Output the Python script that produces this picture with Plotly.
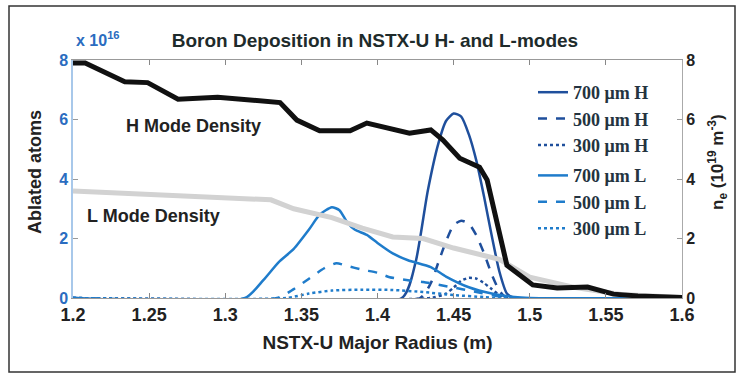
import plotly.graph_objects as go

# ---- data ----
radius_h700 = [1.2, 1.416, 1.425, 1.433, 1.44, 1.445, 1.45, 1.455, 1.46, 1.465, 1.47, 1.475, 1.48, 1.485, 1.49, 1.6]
atoms_h700 = [0, 0, 1.2, 3.6, 5.2, 5.95, 6.2, 6.1, 5.5, 4.6, 3.4, 2.1, 0.9, 0.15, 0, 0]

radius_h500 = [1.2, 1.428, 1.435, 1.44, 1.445, 1.45, 1.455, 1.46, 1.465, 1.47, 1.475, 1.48, 1.485, 1.6]
atoms_h500 = [0, 0, 0.5, 1.2, 1.9, 2.45, 2.6, 2.5, 2.1, 1.5, 0.8, 0.25, 0, 0]

radius_h300 = [1.2, 1.435, 1.445, 1.45, 1.455, 1.46, 1.465, 1.47, 1.475, 1.48, 1.485, 1.6]
atoms_h300 = [0, 0, 0.15, 0.35, 0.58, 0.68, 0.65, 0.5, 0.3, 0.1, 0, 0]

radius_l700 = [1.2, 1.313, 1.325, 1.335, 1.345, 1.355, 1.362, 1.37, 1.375, 1.38, 1.385, 1.393, 1.4, 1.41, 1.42,
               1.435, 1.445, 1.46, 1.475, 1.49, 1.5, 1.6]
atoms_l700 = [0, 0, 0.6, 1.2, 1.65, 2.3, 2.8, 3.05, 2.95, 2.55, 2.3, 2.12, 1.85, 1.5, 1.27,
              1.04, 0.72, 0.36, 0.15, 0.03, 0, 0]

radius_l500 = [1.2, 1.334, 1.345, 1.355, 1.365, 1.373, 1.38, 1.39, 1.4, 1.408, 1.42, 1.43, 1.448, 1.465, 1.48, 1.49, 1.6]
atoms_l500 = [0, 0, 0.3, 0.65, 1.0, 1.17, 1.08, 0.95, 0.85, 0.7, 0.6, 0.54, 0.37, 0.2, 0.05, 0, 0]

radius_l300 = [1.2, 1.34, 1.355, 1.37, 1.39, 1.41, 1.43, 1.45, 1.47, 1.48, 1.6]
atoms_l300 = [0, 0, 0.15, 0.25, 0.28, 0.27, 0.2, 0.1, 0.03, 0, 0]

radius_hden = [1.2, 1.208, 1.234, 1.249, 1.269, 1.295, 1.336, 1.347, 1.362, 1.382, 1.393, 1.421, 1.435,
               1.443, 1.454, 1.467, 1.472, 1.485, 1.502, 1.518, 1.538, 1.555, 1.571, 1.6]
dens_h = [7.9, 7.9, 7.27, 7.24, 6.68, 6.75, 6.57, 5.98, 5.62, 5.62, 5.88, 5.54, 5.65,
          5.31, 4.7, 4.4, 3.97, 1.1, 0.44, 0.34, 0.37, 0.13, 0.07, 0.02]

radius_lden = [1.2, 1.25, 1.3, 1.33, 1.345, 1.37, 1.39, 1.41, 1.43, 1.45, 1.48, 1.5, 1.53, 1.56, 1.6]
dens_l = [3.6, 3.5, 3.4, 3.3, 3.0, 2.7, 2.35, 2.05, 2.0, 1.68, 1.3, 0.7, 0.35, 0.12, 0.02]

x_tickvals = [1.2, 1.25, 1.3, 1.35, 1.4, 1.45, 1.5, 1.55, 1.6]
x_ticktext = ["1.2", "1.25", "1.3", "1.35", "1.4", "1.45", "1.5", "1.55", "1.6"]
y_tickvals = [0, 2, 4, 6, 8]
y_ticktext = ["0", "2", "4", "6", "8"]

H_COL = "#1f4f9c"
L_COL = "#1f7ccb"

fig = go.Figure()

series = [
    ("700 μm H", radius_h700, atoms_h700, H_COL, "solid", "H"),
    ("500 μm H", radius_h500, atoms_h500, H_COL, "dash", "H"),
    ("300 μm H", radius_h300, atoms_h300, H_COL, "dot", "H"),
    ("700 μm L", radius_l700, atoms_l700, L_COL, "solid", "L"),
    ("500 μm L", radius_l500, atoms_l500, L_COL, "dash", "L"),
    ("300 μm L", radius_l300, atoms_l300, L_COL, "dot", "L"),
]
for name, xs, ys, col, dash, grp in series:
    fig.add_trace(go.Scatter(x=xs, y=ys, mode="lines", name=name, legendgroup=grp,
                             line=dict(color=col, width=2.5, dash=dash, shape="spline", smoothing=0.6),
                             yaxis="y"))

fig.add_trace(go.Scatter(x=radius_lden, y=dens_l, mode="lines", name="L Mode Density",
                         showlegend=False, line=dict(color="#d2d2d2", width=5), yaxis="y2"))
fig.add_trace(go.Scatter(x=radius_hden, y=dens_h, mode="lines", name="H Mode Density",
                         showlegend=False, line=dict(color="#111111", width=5), yaxis="y2"))

L, R, T, B = 73, 57, 60, 79
W, H = 739, 377
pw, ph = W - L - R, H - T - B


def px(xp):
    return (xp - L) / pw


def py(yp):
    return (H - B - yp) / ph


bold_sans = "Liberation Sans, Arial, sans-serif"

fig.update_layout(
    width=W, height=H,
    margin=dict(l=L, r=R, t=T, b=B),
    paper_bgcolor="white", plot_bgcolor="white",
    showlegend=True,
    title=dict(text="<b>Boron Deposition in NSTX-U H- and L-modes</b>",
               x=px(375), xanchor="center", xref="paper", y=1 - 40 / H, yanchor="middle",
               font=dict(family=bold_sans, size=19, color="#1e2b2b")),
    xaxis=dict(range=[1.2, 1.6], tickvals=x_tickvals, ticktext=x_ticktext,
               ticks="inside", ticklen=5, tickcolor="#888", showline=True, linecolor="#999",
               linewidth=1, mirror="ticks", showgrid=False, zeroline=False,
               tickfont=dict(family=bold_sans, size=18, color="#222", weight="bold"),
               title=dict(text="<b>NSTX-U Major Radius (m)</b>", standoff=12,
                          font=dict(family=bold_sans, size=19, color="#222"))),
    yaxis=dict(range=[0, 8], tickvals=y_tickvals, ticktext=y_ticktext,
               ticks="inside", ticklen=5, tickcolor="#999", showline=True, linecolor="#a8c8ea",
               linewidth=1.5, showgrid=False, zeroline=False,
               tickfont=dict(family=bold_sans, size=16, color="#2a6cc0", weight="bold")),
    yaxis2=dict(range=[0, 8], tickvals=y_tickvals, ticktext=y_ticktext, overlaying="y", side="right",
                ticks="inside", ticklen=5, tickcolor="#999", showline=True, linecolor="#aaa",
                linewidth=1, showgrid=False, zeroline=False,
                tickfont=dict(family=bold_sans, size=16, color="#222", weight="bold")),
    legend=dict(x=px(533), y=py(74), xanchor="left", yanchor="top",
                bgcolor="rgba(0,0,0,0)", traceorder="grouped", tracegroupgap=4,
                font=dict(family="Liberation Serif, Times New Roman, serif", size=18,
                          color="#243340", weight="bold"),
                itemwidth=30),
    annotations=[
        dict(text="<b>x 10<sup>16</sup></b>", x=px(74), y=py(39), xref="paper", yref="paper",
             xanchor="left", yanchor="middle", showarrow=False,
             font=dict(family=bold_sans, size=16, color="#2a6cc0")),
        dict(text="<b>H Mode Density</b>", x=px(124), y=py(126), xref="paper", yref="paper",
             xanchor="left", yanchor="middle", showarrow=False,
             font=dict(family=bold_sans, size=18, color="#222")),
        dict(text="<b>L Mode Density</b>", x=px(85), y=py(216), xref="paper", yref="paper",
             xanchor="left", yanchor="middle", showarrow=False,
             font=dict(family=bold_sans, size=18, color="#222")),
        dict(text="<b>Ablated atoms</b>", x=px(35), y=py(172), xref="paper", yref="paper",
             xanchor="center", yanchor="middle", showarrow=False, textangle=-90,
             font=dict(family=bold_sans, size=18, color="#222")),
        dict(text="<b>n<sub>e</sub> (10<sup>19</sup> m<sup>-3</sup>)</b>", x=px(717), y=py(162),
             xref="paper", yref="paper", xanchor="center", yanchor="middle", showarrow=False,
             textangle=-90, font=dict(family=bold_sans, size=17, color="#222")),
    ],
    shapes=[
        dict(type="rect", xref="paper", yref="paper", x0=px(9), x1=px(735), y0=py(372), y1=py(6),
             line=dict(color="#333", width=1.5), fillcolor="rgba(0,0,0,0)", layer="below"),
    ],
)

fig.write_html("out.html")
